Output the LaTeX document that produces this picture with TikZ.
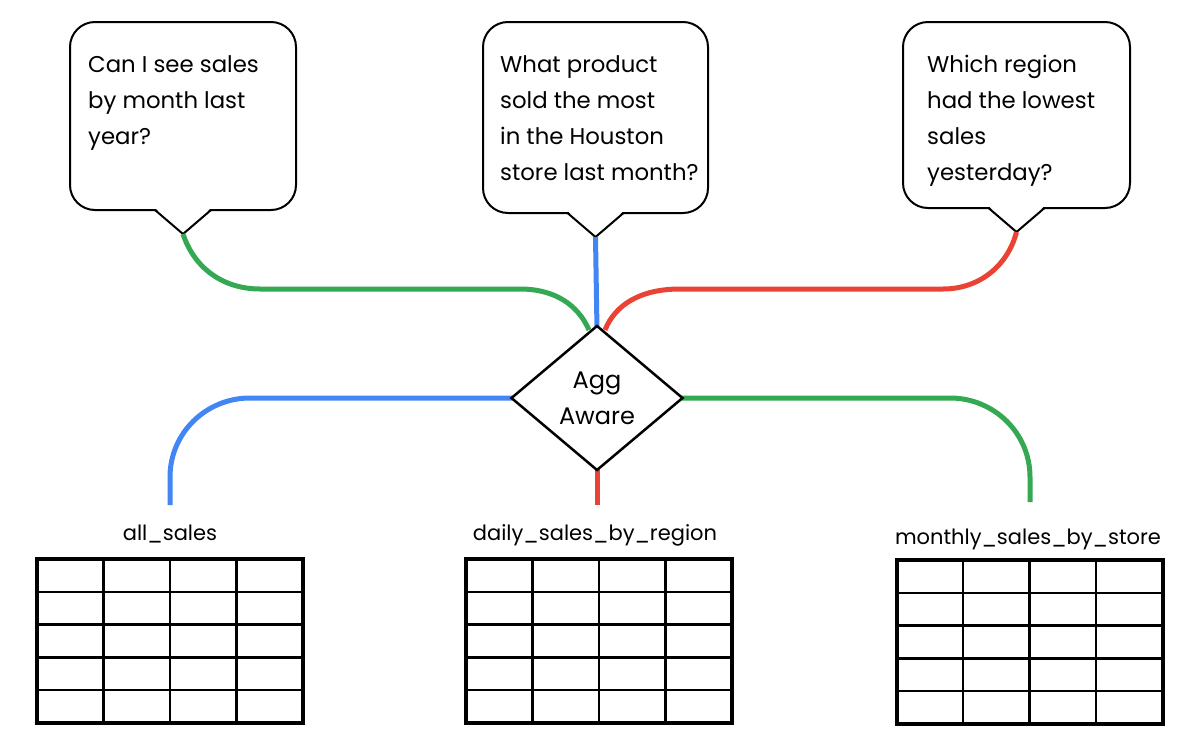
\documentclass[tikz,border=0pt]{standalone}
\usepackage{fontspec}
\setmainfont{Poppins}
\usetikzlibrary{shapes.geometric}

\definecolor{gblue}{HTML}{4285F4}
\definecolor{ggreen}{HTML}{34A853}
\definecolor{gred}{HTML}{EA4335}

\tikzset{
  bubble/.style={draw, line width=2pt, rounded corners=25pt, inner sep=0pt, outer sep=0pt, minimum width=226pt, minimum height=188pt},
  qtext/.style={anchor=north west, align=left, inner sep=0pt, font=\fontsize{22.8}{36}\selectfont},
  decision/.style={diamond, draw, line width=2.5pt, fill=white, inner sep=0pt, outer sep=0pt, minimum width=171pt, minimum height=144pt, align=center, font=\fontsize{24}{36}\selectfont},
  route/.style={line width=5pt},
  tablebox/.style={draw, line width=4pt, inner sep=0pt, outer sep=0pt, minimum width=266pt, minimum height=164pt},
  gridline/.style={line width=2.5pt},
  tname/.style={anchor=base, inner sep=0pt, font=\fontsize{21}{26}\selectfont}
}

\begin{document}
\begin{tikzpicture}[x=1pt, y=-1pt]
\useasboundingbox (0,0) rectangle (1200,750);

% questions
\node[bubble] (b1) at (183,116) {};
\node[bubble, minimum width=225pt, minimum height=191pt] (b2) at (595.5,117.5) {};
\node[bubble, minimum width=227pt, minimum height=186pt] (b3) at (1016.5,115) {};
\foreach \b in {b1,b2,b3} {
  \coordinate (tip\b) at ([yshift=-24pt]\b.south);
  \fill[white] ([xshift=-28pt,yshift=2pt]\b.south) -- (tip\b) -- ([xshift=28pt,yshift=2pt]\b.south) -- cycle;
  \draw[line width=2pt] ([xshift=-28pt]\b.south) -- (tip\b) -- ([xshift=28pt]\b.south);
}
\node[qtext] (q1) at (88,55) {Can I see sales\\by month last\\year?};
\node[qtext] (q2) at (500,55) {What product\\sold the most\\in the Houston\\store last month?};
\node[qtext] (q3) at (927,55) {Which region\\had the lowest\\sales\\yesterday?};

% tables
\node[tablebox] (tab1) at (170,641) {};
\node[tablebox] (tab2) at (599,641) {};
\node[tablebox] (tab3) at (1029.5,642) {};
\foreach \t in {tab1,tab2,tab3} {
  \foreach \i in {1,2,3}
    \draw[gridline] ([xshift=\i*66.5pt]\t.north west) -- ([xshift=\i*66.5pt]\t.south west);
  \foreach \j in {1,...,4}
    \draw[gridline] ([yshift=-\j*32.8pt]\t.north west) -- ([yshift=-\j*32.8pt]\t.north east);
}
\node[tname] (n1) at (170,540) {all\_sales};
\node[tname] (n2) at (595,540) {daily\_sales\_by\_region};
\node[tname] (n3) at (1028,544) {monthly\_sales\_by\_store};
\coordinate (e1) at (170,505);
\coordinate (e2) at (597,505);
\coordinate (e3) at (1030,502);

% routes
\coordinate (aggc) at (597,398);
\draw[route, ggreen] (tipb1) .. controls (195,270) and (225,289) .. (260,289) -- (520,289)
  .. controls (555,289) and (578,305) .. ([xshift=-8pt]aggc |- 0,330);
\draw[route, gblue] (tipb2) -- (aggc |- 0,330);
\draw[route, gred] ([xshift=8pt]aggc |- 0,330) .. controls (615,305) and (640,289) .. (680,289)
  -- (943,289) .. controls (980,289) and (1008,265) .. (tipb3);
\draw[route, gblue] (aggc) -- (250,398) .. controls (206,398) and (170,433) .. (170,477) -- (e1);
\draw[route, gred] (aggc) -- (e2);
\draw[route, ggreen] (aggc) -- (950,398) .. controls (994,398) and (1030,433) .. (1030,477) -- (e3);

\node[decision] (agg) at (aggc) {Agg\\Aware};
\end{tikzpicture}
\end{document}
